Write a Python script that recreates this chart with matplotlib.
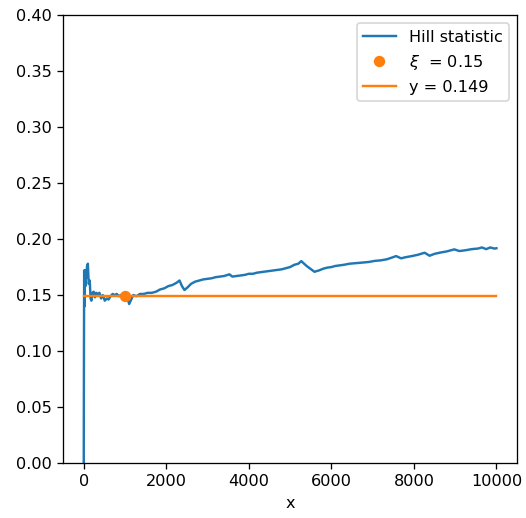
import matplotlib
matplotlib.use("Agg")
import matplotlib.pyplot as plt

hill_x = [0, 5, 10, 20, 30, 40, 50, 60, 80, 100, 120, 145, 165, 185, 210, 240, 270, 300,
          340, 380, 420, 460, 510, 560, 600, 650, 700, 750, 800, 850, 900, 950, 1000,
          1050, 1100, 1150, 1200, 1280, 1360, 1450, 1550, 1650, 1750, 1850, 1950, 2050,
          2150, 2250, 2320, 2380, 2440, 2520, 2600, 2700, 2800, 2900, 3000, 3100, 3200,
          3300, 3400, 3530, 3600, 3700, 3800, 3900, 4000, 4100, 4200, 4300, 4400, 4500,
          4600, 4700, 4800, 4900, 5000, 5100, 5200, 5270, 5400, 5590, 5700, 5800, 5900,
          6000, 6100, 6200, 6300, 6440, 6600, 6750, 6900, 7050, 7200, 7350, 7470, 7570,
          7690, 7800, 7950, 8100, 8260, 8380, 8500, 8650, 8800, 8980, 9100, 9250, 9400,
          9550, 9650, 9750, 9850, 9950, 10000]
hill_y = [0.0, 0.104, 0.172, 0.14, 0.172, 0.158, 0.17, 0.165, 0.176, 0.178, 0.16, 0.163,
          0.147, 0.145, 0.152, 0.153, 0.148, 0.152, 0.151, 0.152, 0.147, 0.150, 0.145,
          0.147, 0.146, 0.149, 0.151, 0.150, 0.151, 0.149, 0.150, 0.148, 0.147, 0.149,
          0.142, 0.146, 0.150, 0.149, 0.151, 0.151, 0.152, 0.152, 0.153, 0.155, 0.156,
          0.158, 0.159, 0.161, 0.163, 0.158, 0.1545, 0.157, 0.160, 0.162, 0.163, 0.164,
          0.1645, 0.165, 0.166, 0.1665, 0.167, 0.1685, 0.1665, 0.167, 0.1675, 0.168,
          0.169, 0.169, 0.170, 0.1705, 0.171, 0.1715, 0.172, 0.1725, 0.173, 0.174, 0.175,
          0.177, 0.178, 0.1803, 0.176, 0.1708, 0.172, 0.1735, 0.1745, 0.175, 0.176,
          0.1765, 0.177, 0.178, 0.1785, 0.179, 0.1795, 0.1805, 0.181, 0.182, 0.1835,
          0.1848, 0.1828, 0.1838, 0.1848, 0.186, 0.1878, 0.1851, 0.1868, 0.188, 0.189,
          0.1908, 0.1893, 0.190, 0.191, 0.1915, 0.1925, 0.191, 0.1925, 0.1915, 0.1918]

xi_x = [1000]
xi_y = [0.149]
xi_label = r"$\xi$  = 0.15"
hline_y = 0.149
hline_x = [0, 10000]

DPI = 116.5
fig = plt.figure(figsize=(526 / DPI, 518 / DPI), dpi=DPI)
ax = fig.add_axes([0.12, 0.106, 0.863, 0.865])
ax.plot(hill_x, hill_y, color="#1f77b4", label="Hill statistic")
ax.plot(xi_x, xi_y, "o", color="#ff7f0e", label=xi_label)
ax.plot(hline_x, [hline_y, hline_y], color="#ff7f0e", label="y = 0.149")
ax.set_ylim(0, 0.4)
ax.set_xlabel("x")
ax.legend(loc="upper right")
fig.savefig("out.png", dpi=DPI)
